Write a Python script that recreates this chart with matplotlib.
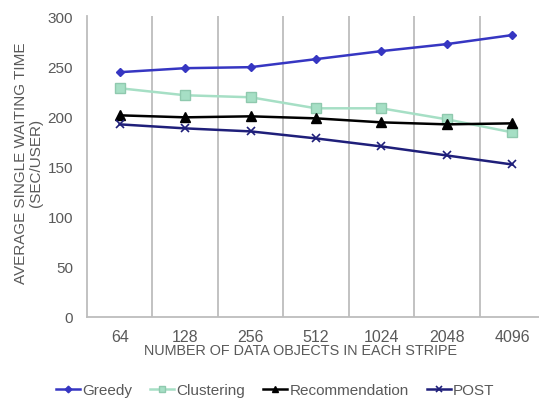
import matplotlib
matplotlib.use("Agg")
import matplotlib.pyplot as plt
import numpy as np

plt.rcParams['font.family'] = ['Liberation Sans', 'DejaVu Sans']

categories = ["64", "128", "256", "512", "1024", "2048", "4096"]
greedy = [244, 248, 249, 257, 265, 272, 281]
clustering = [228, 221, 219, 208, 208, 197, 184]
recommendation = [201, 199, 200, 198, 194, 192, 193]
post = [192, 188, 185, 178, 170, 161, 152]

W, H = 539, 402
fig = plt.figure(figsize=(W/100, H/100), dpi=100)
ax = fig.add_axes([87/W, (H-318)/H, (545-87)/W, (318-17)/H])

x = np.arange(len(categories))
ax.plot(x, greedy, color='#3636C2', lw=1.8, marker='D', ms=4.5, label='Greedy')
ax.plot(x, clustering, color='#A6DFC5', lw=1.8, marker='s', ms=6.5,
        markeredgecolor='#8FC9AE', markerfacecolor='#A6DFC5', label='Clustering')
ax.plot(x, recommendation, color='#000000', lw=1.8, marker='^', ms=6.5, label='Recommendation')
ax.plot(x, post, color='#1F1F7A', lw=1.8, marker='x', ms=5.5, mew=1.2, label='POST')

ax.set_xlim(-0.5, len(categories) - 0.5)
ax.set_ylim(0, 300)
ax.set_yticks(np.arange(0, 301, 50))
ax.set_xticks(x)
ax.set_xticklabels(categories)
ax.set_xticks(np.arange(0.5, len(categories) - 0.5, 1), minor=True)
ax.grid(False)
ax.xaxis.grid(True, which='minor', color='#BDBDBD', lw=1.3)
ax.tick_params(axis='both', which='both', length=0, labelsize=11, labelcolor='#595959')
ax.tick_params(axis='x', pad=8.5)
ax.tick_params(axis='y', pad=10)
for lab in ax.get_xticklabels():
    lab.set_fontsize(11.5)

for s in ['top', 'right']:
    ax.spines[s].set_visible(False)
for s in ['left', 'bottom']:
    ax.spines[s].set_color('#BDBDBD')
    ax.spines[s].set_linewidth(1.3)

fig.text(28.5/W, 1 - 163/H, "AVERAGE SINGLE WAITING TIME\n(SEC/USER)", fontsize=11,
         color='#595959', linespacing=1.15, rotation=90, ha='center', va='center',
         multialignment='center')
fig.text(300/W, 1 - 351.5/H, "NUMBER OF DATA OBJECTS IN EACH STRIPE", fontsize=10.4,
         color='#595959', ha='center', va='center')

fig.legend(loc='center', bbox_to_anchor=(275/W, 1 - 391/H), ncol=4, frameon=False,
           fontsize=11, labelcolor='#595959', handlelength=1.57, handletextpad=0.15,
           columnspacing=1.18, markerscale=0.75, borderpad=0, borderaxespad=0)

fig.savefig("out.png", dpi=100)
